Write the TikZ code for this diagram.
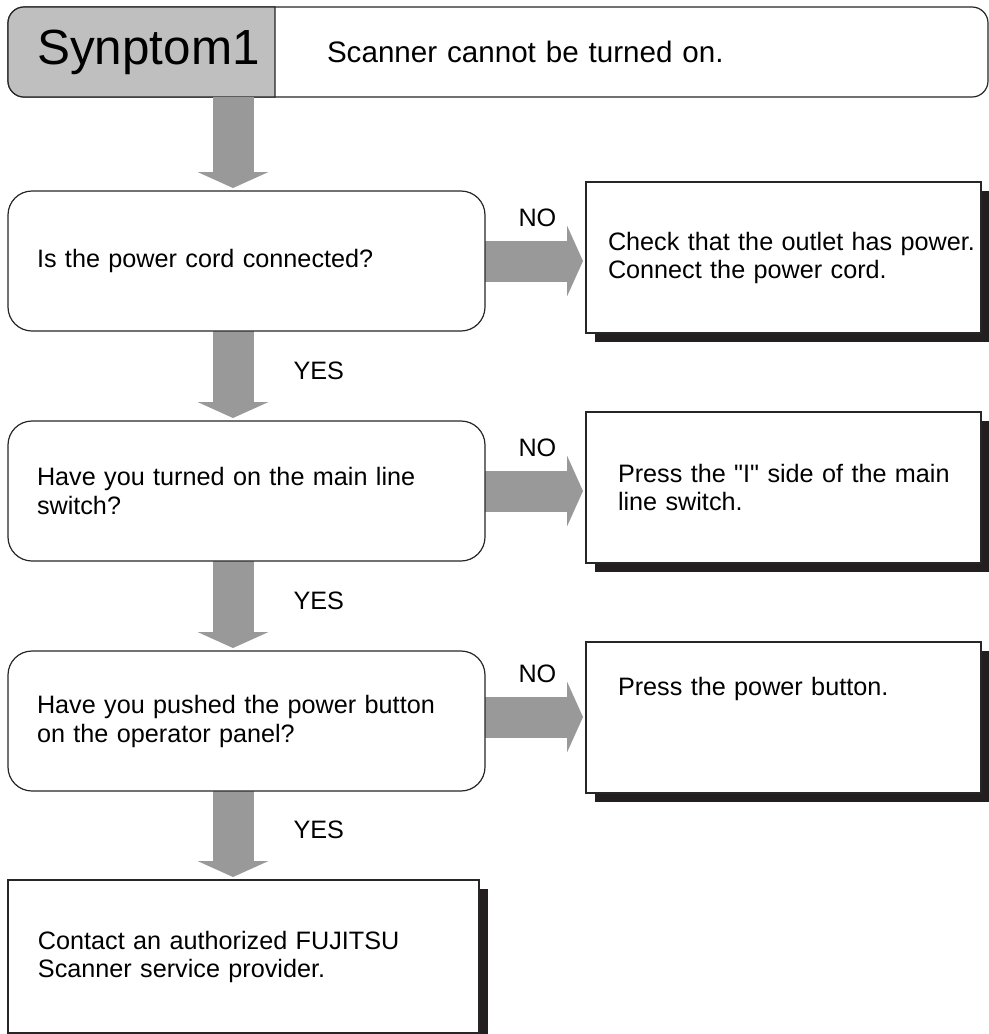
\documentclass[tikz,border=0pt]{standalone}
\usepackage{fontspec}
\setmainfont{Liberation Sans}
\usetikzlibrary{arrows.meta, positioning, shadows, backgrounds}
\definecolor{hdrgray}{HTML}{BFBFBF}
\definecolor{arrgray}{HTML}{999999}
\definecolor{shadowblk}{HTML}{231F20}

\begin{document}
\begin{tikzpicture}[
          qbox/.style={rectangle, draw=black!85, fill=white, line width=0.6pt,
                       rounded corners=12pt, minimum width=238.5pt,
                       minimum height=70pt, inner xsep=14.5pt, inner ysep=0pt,
                       text width=209.5pt, align=left, outer sep=0pt,
                       font=\fontsize{12.6pt}{14.5pt}\selectfont},
          abox/.style={rectangle, draw=black!85, fill=white, line width=0.6pt,
                       minimum width=197.5pt, minimum height=75.5pt,
                       inner xsep=16pt, inner ysep=0pt, text width=165.5pt,
                       align=left, outer sep=0pt,
                       drop shadow={shadow xshift=4.5pt, shadow yshift=-4.5pt,
                                    fill=shadowblk, opacity=1},
                       font=\fontsize{12.6pt}{14pt}\selectfont},
          arr/.style={draw=arrgray, line width=20.5pt, shorten >=1.5pt,
                      -{Triangle[width=35.5pt, length=8pt, line width=0pt]}},
          lbl/.style={inner sep=0pt, font=\fontsize{12.6pt}{14pt}\selectfont},
        ]
          \useasboundingbox (0,0) rectangle (494.5pt,-517pt);

          \node[rectangle, minimum width=133.5pt, minimum height=45pt,
                inner sep=0pt, outer sep=0pt, anchor=north west,
                font=\fontsize{24.7pt}{28pt}\selectfont] (sym) at (4pt,-3.5pt) {\hspace*{7pt}Synptom1};
          \node[rectangle, minimum width=356.5pt, minimum height=45pt,
                inner xsep=26pt, inner ysep=0pt, text width=304.5pt, align=left,
                outer sep=0pt, font=\fontsize{14.8pt}{17pt}\selectfont,
                right=0pt of sym] (symtxt) {Scanner cannot be turned on.};

          \node[qbox, below=47pt of sym.south west, anchor=north west] (q1) {Is the power cord connected?};
          \node[qbox, below=45pt of q1] (q2) {Have you turned on the main line\\ switch?};
          \node[qbox, below=45pt of q2] (q3) {Have you pushed the power button\\ on the operator panel?};
          \node[abox, minimum width=235.5pt, minimum height=76.5pt, inner xsep=15pt,
                text width=205.5pt, below=44.5pt of q3.south west,
                anchor=north west] (fin) {Contact an authorized FUJITSU\\ Scanner service provider.};

          \node[abox, inner xsep=11pt, text width=175.5pt, right=50.5pt of q1,
                yshift=1.75pt] (a1) {\mbox{Check that the outlet has power.}\\ Connect the power cord.};
          \node[abox, right=50.5pt of q2, yshift=1.75pt] (a2) {\mbox{Press the \textquotedbl I\textquotedbl{} side of the main}\\ line switch.};
          \node[abox, right=50.5pt of q3, yshift=1.75pt] (a3) {Press the power button.\\[17.5pt]~};

          \coordinate (col) at ([xshift=112.5pt]q1.west);
          \coordinate (n3) at ([yshift=2pt]q3.east);

          \begin{scope}[on background layer]
            \draw[line width=0.6pt, draw=black!85, fill=white, rounded corners=8pt]
              (sym.north west) rectangle (symtxt.south east);
            \filldraw[line width=0.6pt, draw=black!85, fill=hdrgray]
              (sym.north east) -- ([xshift=8pt]sym.north west)
              arc[start angle=90, end angle=180, radius=8pt]
              -- ([yshift=8pt]sym.south west)
              arc[start angle=180, end angle=270, radius=8pt]
              -- (sym.south east) -- cycle;

            \draw[arr] (sym.south -| col) -- (q1.north -| col);
            \draw[arr] (q1.south -| col) -- node[lbl, pos=0.44, anchor=west, xshift=20pt] {YES} (q2.north -| col);
            \draw[arr] (q2.south -| col) -- node[lbl, pos=0.44, anchor=west, xshift=20pt] {YES} (q3.north -| col);
            \draw[arr] (q3.south -| col) -- node[lbl, pos=0.44, anchor=west, xshift=20pt] {YES} (fin.north -| col);

            \draw[arr] (q1.east) -- node[lbl, at start, anchor=base west, xshift=6.5pt, yshift=17.5pt] {NO} (a1.west |- q1.east);
            \draw[arr] (q2.east) -- node[lbl, at start, anchor=base west, xshift=6.5pt, yshift=17.5pt] {NO} (a2.west |- q2.east);
            \draw[arr] (n3) -- node[lbl, at start, anchor=base west, xshift=6.5pt, yshift=17.5pt] {NO} (a3.west |- n3);
          \end{scope}
        \end{tikzpicture}
\end{document}
